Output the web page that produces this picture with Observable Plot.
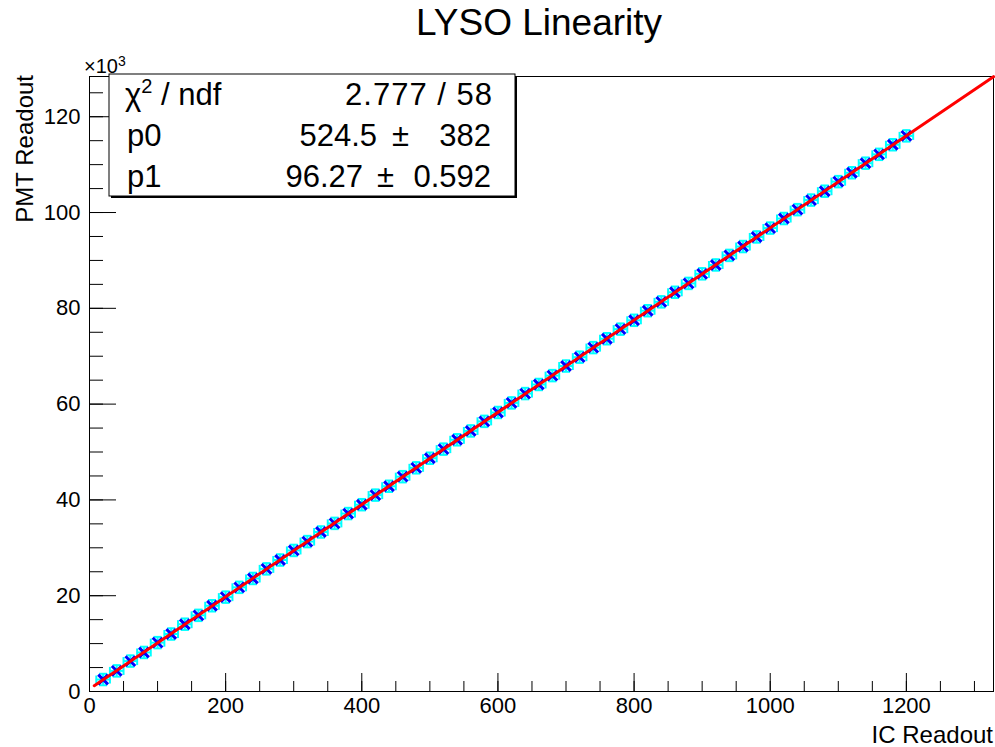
<!DOCTYPE html>
<html>
<head>
<meta charset="utf-8">
<script src="https://cdn.jsdelivr.net/npm/d3@7"></script>
<script src="https://cdn.jsdelivr.net/npm/@observablehq/plot@0.6"></script>
<style>
  html, body { margin: 0; padding: 0; background: white; }
  #chart { width: 995px; height: 747px; }
</style>
</head>
<body>
<div id="chart"></div>
<script>
// ---- data ----
const xValues = [20,40,60,80,100,120,140,160,180,200,220,240,260,280,300,320,340,360,380,400,
  420,440,460,480,500,520,540,560,580,600,620,640,660,680,700,720,740,760,780,800,
  820,840,860,880,900,920,940,960,980,1000,1020,1040,1060,1080,1100,1120,1140,1160,1180,1200];
const yValues = [2500,4300,6350,8150,10200,12000,14050,15900,17900,19700,21750,23600,25600,27450,29450,31300,33300,35100,37150,39000,
  41000,42850,44850,46700,48700,50600,52550,54400,56400,58250,60250,62200,64100,65950,67950,69800,71800,73650,75650,77500,
  79500,81350,83350,85200,87200,89050,91050,92900,94900,96750,98750,100600,102600,104450,106450,108300,110300,112150,114150,116000];
const xError = 10;
const yError = 1200;
const p0 = 524.5, p1 = 96.27;
const fitRange = [7, 1328];
const xDomain = [0, 1328];
const yDomain = [0, 128400];
const xMajor = [0,200,400,600,800,1000,1200];
const xTickLabels = ["0","200","400","600","800","1000","1200"];
const xMinor = d3.range(0, 1328, 50);
const yMajor = [0,20000,40000,60000,80000,100000,120000];
const yTickLabels = ["0","20","40","60","80","100","120"];
const yMinor = d3.range(0, 128400, 5000);
const statsRows = [
  {name: "χ", sup: "2", rest: " / ndf", value: "2.777 / 58"},
  {name: "p0", value: "524.5", err: "382"},
  {name: "p1", value: "96.27", err: "0.592"}
];

// ---- layout ----
const W = 995, H = 747, mL = 89, mR = 2, mT = 76, mB = 56;
const frameW = W - mL - mR, frameH = H - mT - mB;
const FONT = "'Liberation Sans', Arial, Helvetica, sans-serif";

const pts = xValues.map((x, i) => ({x, y: yValues[i], ex: xError, ey: yError}));
const fit = fitRange.map(x => ({x, y: p0 + p1 * x}));

const hcap = {draw(ctx, size) { const r = Math.sqrt(size / Math.PI); ctx.moveTo(-r, 0); ctx.lineTo(r, 0); }};
const vcap = {draw(ctx, size) { const r = Math.sqrt(size / Math.PI); ctx.moveTo(0, -r); ctx.lineTo(0, r); }};
const cyan = "#00ffff";

const svg = Plot.plot({
  width: W, height: H,
  marginLeft: mL, marginRight: mR, marginTop: mT, marginBottom: mB,
  style: {fontFamily: FONT, background: "white", color: "black", overflow: "visible"},
  x: {domain: xDomain},
  y: {domain: yDomain},
  marks: [
    Plot.frame({stroke: "black", strokeWidth: 1}),
    Plot.tickX(xMinor, {x: d => d, insetTop: frameH - 10, stroke: "black"}),
    Plot.tickX(xMajor, {x: d => d, insetTop: frameH - 18, stroke: "black"}),
    Plot.tickY(yMinor, {y: d => d, insetRight: frameW - 14, stroke: "black"}),
    Plot.tickY(yMajor, {y: d => d, insetRight: frameW - 27, stroke: "black"}),
    Plot.axisX({ticks: xMajor, tickSize: 0, tickPadding: 6, fontSize: 22, label: null,
      tickFormat: d => xTickLabels[xMajor.indexOf(d)]}),
    Plot.axisY({ticks: yMajor, tickSize: 0, tickPadding: 9, fontSize: 22, label: null,
      tickFormat: d => yTickLabels[yMajor.indexOf(d)]}),
    // error bars
    Plot.ruleY(pts, {y: "y", x1: d => d.x - d.ex, x2: d => d.x + d.ex, stroke: cyan, strokeWidth: 2}),
    Plot.ruleX(pts, {x: "x", y1: d => d.y - d.ey, y2: d => d.y + d.ey, stroke: cyan, strokeWidth: 2}),
    Plot.dot(pts, {x: d => d.x - d.ex, y: "y", symbol: vcap, r: 4, stroke: cyan, strokeWidth: 2, fill: "none"}),
    Plot.dot(pts, {x: d => d.x + d.ex, y: "y", symbol: vcap, r: 4, stroke: cyan, strokeWidth: 2, fill: "none"}),
    Plot.dot(pts, {x: "x", y: d => d.y - d.ey, symbol: hcap, r: 4, stroke: cyan, strokeWidth: 2, fill: "none"}),
    Plot.dot(pts, {x: "x", y: d => d.y + d.ey, symbol: hcap, r: 4, stroke: cyan, strokeWidth: 2, fill: "none"}),
    // markers
    Plot.dot(pts, {x: "x", y: "y", symbol: "times", r: 4.5, stroke: "#0000ff", strokeWidth: 3}),
    // fit
    Plot.line(fit, {x: "x", y: "y", stroke: "#ff0000", strokeWidth: 3})
  ]
});
document.getElementById("chart").appendChild(svg);

const s = d3.select(svg);
function txt(x, y, size, anchor) {
  return s.append("text").attr("x", x).attr("y", y).attr("text-anchor", anchor)
    .attr("font-family", FONT).attr("font-size", size).attr("fill", "black");
}
// title
txt(539, 35, 37, "middle").text("LYSO Linearity");
// x10^3
const e = txt(84, 73, 20, "start");
e.append("tspan").text("×10");
e.append("tspan").attr("dy", -7).attr("font-size", 14).text("3");
// axis titles
s.append("text").attr("transform", "translate(33,75) rotate(-90)").attr("text-anchor", "end")
  .attr("font-family", FONT).attr("font-size", 24).attr("fill", "black").text("PMT Readout");
txt(993, 743, 24, "end").text("IC Readout");

// stats box
const bx = 109, by = 74, bw = 406, bh = 122;
s.append("rect").attr("x", bx + 2).attr("y", by + 2).attr("width", bw).attr("height", bh).attr("fill", "black");
s.append("rect").attr("x", bx).attr("y", by).attr("width", bw).attr("height", bh)
  .attr("fill", "white").attr("stroke", "black").attr("stroke-width", 1);
const rowY = [105, 146, 187];
const fs = 31;
statsRows.forEach((r, i) => {
  const t = txt(i === 0 ? 125 : 127, rowY[i], fs, "start");
  t.append("tspan").text(r.name);
  if (r.sup) {
    t.append("tspan").attr("dy", -12).attr("font-size", 20).text(r.sup);
    t.append("tspan").attr("dy", 12).text(r.rest);
  }
  if (!r.err) {
    txt(493, rowY[i], fs, "end").attr("letter-spacing", 1).text(r.value);
  } else {
    const valEnd = i === 1 ? 377 : 363;
    const pmX = i === 1 ? 392 : 377;
    txt(valEnd, rowY[i], fs, "end").text(r.value);
    txt(pmX, rowY[i], fs, "start").text("±");
    txt(491, rowY[i], fs, "end").text(r.err);
  }
});
</script>
</body>
</html>
